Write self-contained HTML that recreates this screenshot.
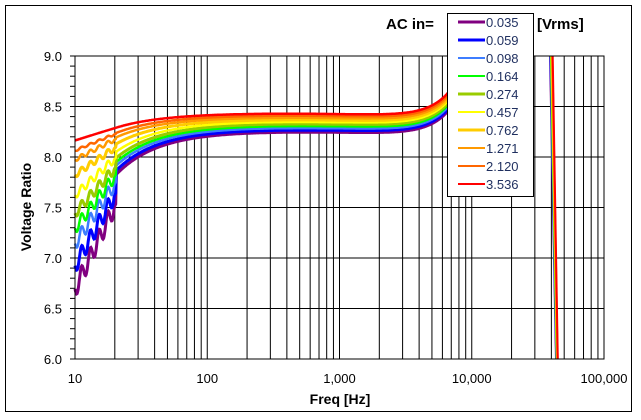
<!DOCTYPE html>
<html><head><meta charset="utf-8"><style>
body{margin:0;background:#fff;}
svg{display:block;font-family:"Liberation Sans",sans-serif;}
</style></head><body>
<svg id="s" width="641" height="420" viewBox="0 0 641 420" xmlns="http://www.w3.org/2000/svg">
<rect x="5.5" y="5.5" width="626" height="406" fill="#fff" stroke="#000" stroke-width="1"/>
<g id="grid"></g>
<g id="curves"></g>
<g id="vl"></g>
<rect x="75" y="56" width="529" height="303" fill="none" stroke="#000" stroke-width="1"/>
<g font-size="13" fill="#000" text-anchor="end" id="yl"></g>
<g font-size="13" fill="#000" text-anchor="middle" id="xl"></g>
<text x="340" y="404" font-size="14" font-weight="bold" text-anchor="middle">Freq [Hz]</text>
<text transform="translate(31,207) rotate(-90)" font-size="14" font-weight="bold" text-anchor="middle">Voltage Ratio</text>
<text x="386" y="29" font-size="15" font-weight="bold">AC in=</text>
<text x="537" y="29" font-size="15" font-weight="bold">[Vrms]</text>
<rect x="447.5" y="13.5" width="86" height="183" fill="#fff" stroke="#000"/>
<g id="leg" font-size="13"></g>
</svg>
<script>
const NS="http://www.w3.org/2000/svg";
function el(p,t,a,txt){const e=document.createElementNS(NS,t);for(const k in a)e.setAttribute(k,a[k]);if(txt)e.textContent=txt;document.getElementById(p).appendChild(e);return e;}
const X=lf=>75+(lf-1)*132.25, Y=v=>56+(9-v)*101;
for(let d=1;d<5;d++)for(let m=1;m<10;m++){const x=X(d+Math.log10(m));el("grid","line",{x1:x,x2:x,y1:56,y2:359,stroke:"#000","stroke-width":1});}
for(let k=1;k<6;k++){const y=56+k*50.5;el("grid","line",{x1:75,x2:604,y1:y,y2:y,stroke:"#000","stroke-width":1});}
for(let k=0;k<=30;k++){const y=56+k*10.1;el("grid","line",{x1:70,x2:75,y1:y,y2:y,stroke:"#000","stroke-width":1});}
for(let k=0;k<=6;k++){const v=(9-k*0.5).toFixed(1);el("yl","text",{x:62,y:56+k*50.5+5},v);}
["10","100","1,000","10,000","100,000"].forEach((t,i)=>el("xl","text",{x:75+i*132.25,y:383},t));
const cols=["#800080","#0000ff","#3d7dff","#00ff00","#99cc00","#ffff00","#ffcc00","#ff9900","#ff6600","#ff0000"];
const labs=["0.035","0.059","0.098","0.164","0.274","0.457","0.762","1.271","2.120","3.536"];
const V10=[6.75,6.98,7.2,7.35,7.5,7.68,7.88,8.03,8.12,8.22];
for(let i=0;i<10;i++){
 const j=i/9,P=8.25+0.18*j;let pts=[];
 const D=P-V10[i];
 const a=0.45+0.05*j, b=0.26+0.24*j;
 for(let lf=1;lf<=3.92;lf+=0.004){
  let def;
  if(lf<1.31){def=D*(1-(1-a)*(lf-1)/0.31); def+=(1-j)*0.09*Math.sin((lf-1)*95)*(lf<1.3?1:0);}
  else def=b*D*Math.exp(-(lf-1.31)/0.3);
  let v=P-0.025*(lf-2.5)*(lf-2.5)-def+0.3*Math.exp((lf-3.85)/0.16);
  if(v>9)break;
  pts.push(X(lf).toFixed(1)+","+Y(Math.max(v,6)).toFixed(1));
 }
 el("curves","polyline",{points:pts.join(" "),fill:"none",stroke:cols[i],"stroke-width":i<2||i==4||i==6?3:2.5});
 el("vl","line",{x1:550+i*0.3,y1:56,x2:556+i*0.2,y2:359,stroke:cols[i],"stroke-width":2});
 const ly=22+i*18;
 el("leg","line",{x1:458,x2:485,y1:ly,y2:ly,stroke:cols[i],"stroke-width":i<2||i==4||i==6?3:2});
 el("leg","text",{x:486,y:ly+5,fill:"#1f2f5f"},labs[i]);
}
</script>
</body></html>
